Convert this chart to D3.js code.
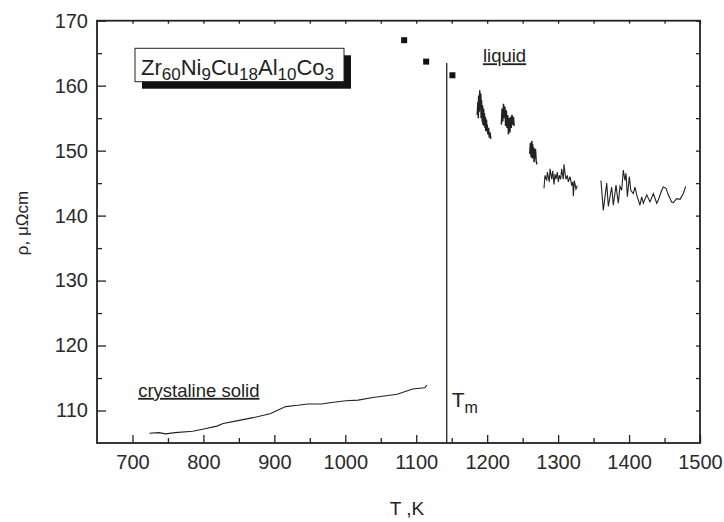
<!DOCTYPE html>
<html>
<head>
<meta charset="utf-8">
<script src="https://cdn.jsdelivr.net/npm/d3@7"></script>
<style>
body { margin: 0; background: #fff; }
text { font-family: "Liberation Sans", Arial, sans-serif; fill: #222; }
</style>
</head>
<body>
<div id="chart"></div>
<script>
// crystalline solid curve
var solidT   = [724, 737, 747, 760, 785, 802, 819, 828, 847, 870, 894, 916, 933, 947, 967, 978, 1001, 1018, 1039, 1073, 1095, 1112, 1115];
var solidRho = [106.5, 106.6, 106.4, 106.6, 106.8, 107.2, 107.6, 108.0, 108.4, 108.9, 109.5, 110.6, 110.8, 111.0, 111.0, 111.2, 111.5, 111.6, 112.0, 112.5, 113.3, 113.5, 113.9];

// isolated points above Tm
var pointT   = [1083, 1114, 1151];
var pointRho = [167.0, 163.7, 161.6];

// liquid segments
var seg1T   = [1186, 1187, 1187.5, 1188, 1189, 1189.5, 1190, 1191, 1191.5, 1192, 1193, 1193.5, 1194, 1195, 1195.5, 1196, 1197, 1197.5, 1198, 1199, 1199.5, 1200, 1201, 1202, 1203, 1204, 1205];
var seg1Rho = [155.5, 157.5, 155, 158.5, 156, 159.3, 156.5, 158.8, 155, 157.8, 154.5, 157, 154, 156.5, 153.8, 155.8, 153.5, 155.2, 153, 154.8, 153, 154, 152.5, 153.5, 152, 152.8, 151.8];
var seg2T   = [1220, 1221, 1222, 1223, 1224, 1225, 1226, 1227, 1228, 1229, 1230, 1231, 1232, 1233, 1234, 1235, 1236, 1237, 1238];
var seg2Rho = [154, 156.5, 154.5, 157.2, 155, 156.8, 153.8, 156.2, 153.5, 155.5, 152.5, 155, 152.8, 155.2, 153.5, 155.5, 154, 155.2, 153.8];
var seg3T   = [1260, 1261, 1262, 1263, 1263.5, 1264, 1265, 1265.5, 1266, 1267, 1267.5, 1268, 1269, 1270];
var seg3Rho = [149.5, 151.2, 149, 151.5, 148.8, 151, 149, 150.5, 148.2, 150.2, 148.8, 150.3, 148.5, 147.9];
var seg4T   = [1280.1, 1281.5, 1283.9, 1284.8, 1287.6, 1288.6, 1291, 1292.4, 1294.2, 1295.6, 1297, 1298.9, 1300.3, 1301.7, 1303.6, 1305, 1307.3, 1308.3, 1309.7, 1311.1, 1313, 1314.4, 1316.8, 1319.2, 1320.6, 1321.5, 1322.8, 1325.2, 1327];
var seg4Rho = [144.2, 146.2, 145.4, 146.7, 145.2, 147.2, 145.6, 146.9, 144.8, 146.4, 145.6, 146.7, 145.2, 146.2, 145.6, 147.2, 145.6, 147.9, 146.6, 145.6, 146.2, 145.2, 146.0, 144.6, 145.2, 143.0, 145.4, 144.1, 144.6];
var seg5T   = [1360.4, 1363.7, 1368.5, 1370.8, 1375.5, 1377.8, 1381.6, 1384.8, 1387.2, 1389.6, 1391.9, 1394.3, 1395.7, 1397.6, 1400.4, 1402.4, 1406, 1408.4, 1410.8, 1415.4, 1417.8, 1420.1, 1424.9, 1429.5, 1434.2, 1439, 1441.3, 1446, 1448.3, 1452.1, 1455.3, 1460.1, 1462.4, 1467.2, 1471.8, 1476.5, 1479.8];
var seg5Rho = [145.4, 140.8, 145.0, 141.4, 144.4, 141.6, 144.7, 141.9, 144.5, 143.9, 147.0, 145.4, 146.5, 142.9, 146.0, 143.9, 143.4, 144.4, 143.2, 141.6, 142.9, 141.9, 143.2, 142.1, 143.4, 141.9, 142.4, 143.9, 144.4, 144.2, 143.2, 142.1, 142.0, 142.6, 142.5, 143.4, 144.5];

var meltT = 1143, meltTop = 163.5;

var xMajor = [700, 800, 900, 1000, 1100, 1200, 1300, 1400, 1500];
var xMinor = [750, 850, 950, 1050, 1150, 1250, 1350, 1450];
var yMajor = [110, 120, 130, 140, 150, 160, 170];
var yMinor = [115, 125, 135, 145, 155, 165];

var width = 724, height = 522;
var margin = {top: 20.7, right: 24, bottom: 79, left: 97};
var w = width - margin.left - margin.right;
var h = height - margin.top - margin.bottom;

var svg = d3.select("#chart").append("svg")
    .attr("width", width)
    .attr("height", height);
var g = svg.append("g")
    .attr("transform", "translate(" + margin.left + "," + margin.top + ")");

var x = d3.scaleLinear().domain([650, 1500]).range([0, w]);
var y = d3.scaleLinear().domain([105, 170]).range([h, 0]);

// axes, ticks pointing inward
function styleAxis(sel) {
    sel.selectAll(".domain").remove();
    sel.selectAll(".tick line").style("stroke", "#222").style("stroke-width", 1.3);
}
g.append("g").attr("transform", "translate(0," + h + ")")
    .call(d3.axisBottom(x).tickValues(xMajor).tickSize(-8).tickPadding(12).tickFormat(d3.format("d")))
    .call(styleAxis)
    .selectAll("text").style("font-size", "20px").style("fill", "#2a2a2a");
g.append("g").attr("transform", "translate(0," + h + ")")
    .call(d3.axisBottom(x).tickValues(xMinor).tickSize(-5).tickFormat(""))
    .call(styleAxis);
g.append("g")
    .call(d3.axisLeft(y).tickValues(yMajor).tickSize(-9).tickPadding(9).tickFormat(d3.format("d")))
    .call(styleAxis)
    .selectAll("text").style("font-size", "20px").style("fill", "#2a2a2a");
g.append("g")
    .call(d3.axisLeft(y).tickValues(yMinor).tickSize(-5).tickFormat(""))
    .call(styleAxis);
g.append("g")
    .call(d3.axisTop(x).tickValues(xMajor.concat(xMinor)).tickSize(-3).tickFormat(""))
    .call(styleAxis);
g.append("g").attr("transform", "translate(" + w + ",0)")
    .call(d3.axisRight(y).tickValues(yMajor.concat(yMinor)).tickSize(-4).tickFormat(""))
    .call(styleAxis);

// frame
g.append("rect")
    .attr("width", w).attr("height", h)
    .style("fill", "none").style("stroke", "#222").style("stroke-width", 1.8);

var line = d3.line()
    .x(function(d) { return x(d[0]); })
    .y(function(d) { return y(d[1]); });

function pairs(t, r) { return t.map(function(v, i) { return [v, r[i]]; }); }

var series = [pairs(solidT, solidRho), pairs(seg1T, seg1Rho), pairs(seg2T, seg2Rho),
              pairs(seg3T, seg3Rho), pairs(seg4T, seg4Rho), pairs(seg5T, seg5Rho)];

g.selectAll(".curve")
    .data(series)
    .enter().append("path")
    .attr("class", "curve")
    .attr("d", line)
    .style("fill", "none")
    .style("stroke", "#222")
    .style("stroke-width", function(d, i) { return i >= 1 && i <= 3 ? 1.5 : 1.1; });

// points
g.selectAll(".pt")
    .data(pairs(pointT, pointRho))
    .enter().append("rect")
    .attr("class", "pt")
    .attr("x", function(d) { return x(d[0]) - 3; })
    .attr("y", function(d) { return y(d[1]) - 3; })
    .attr("width", 6).attr("height", 6)
    .style("fill", "#111");

// Tm line
g.append("line")
    .attr("x1", x(meltT)).attr("x2", x(meltT))
    .attr("y1", y(105)).attr("y2", y(meltTop))
    .style("stroke", "#222").style("stroke-width", 1.3);

var tm = g.append("text")
    .attr("x", x(meltT) + 5).attr("y", y(110.5))
    .style("font-size", "21px");
tm.append("tspan").text("T");
tm.append("tspan").attr("dy", 6).style("font-size", "16px").text("m");

// labels
g.append("text")
    .attr("x", x(708)).attr("y", y(112.1))
    .style("font-size", "18.5px")
    .style("text-decoration", "underline")
    .text("crystaline solid");
g.append("text")
    .attr("x", x(1194)).attr("y", y(163.6))
    .style("font-size", "18.5px")
    .style("text-decoration", "underline")
    .text("liquid");

// composition box
var bx = 135 - margin.left, by = 48.3 - margin.top, bw = 209, bh = 33.4;
g.append("rect")
    .attr("x", bx + 7).attr("y", by + 7)
    .attr("width", bw).attr("height", bh)
    .style("fill", "#111");
g.append("rect")
    .attr("x", bx).attr("y", by)
    .attr("width", bw).attr("height", bh)
    .style("fill", "#fff").style("stroke", "#222").style("stroke-width", 1);

var parts = [["Zr", "60"], ["Ni", "9"], ["Cu", "18"], ["Al", "10"], ["Co", "3"]];
var comp = g.append("text")
    .attr("x", bx + 6).attr("y", by + 27)
    .style("font-size", "22px");
parts.forEach(function(p, i) {
    comp.append("tspan").attr("dy", i ? -5 : 0).text(p[0]);
    comp.append("tspan").attr("dy", 5).style("font-size", "17px").text(p[1]);
});

// axis titles
svg.append("text")
    .attr("transform", "translate(28," + 223 + ") rotate(-90)")
    .style("text-anchor", "middle")
    .style("font-size", "17px")
    .text("ρ, μΩcm");
svg.append("text")
    .attr("x", 407).attr("y", 515)
    .style("text-anchor", "middle")
    .style("font-size", "19px")
    .text("T ,K");
</script>
</body>
</html>
